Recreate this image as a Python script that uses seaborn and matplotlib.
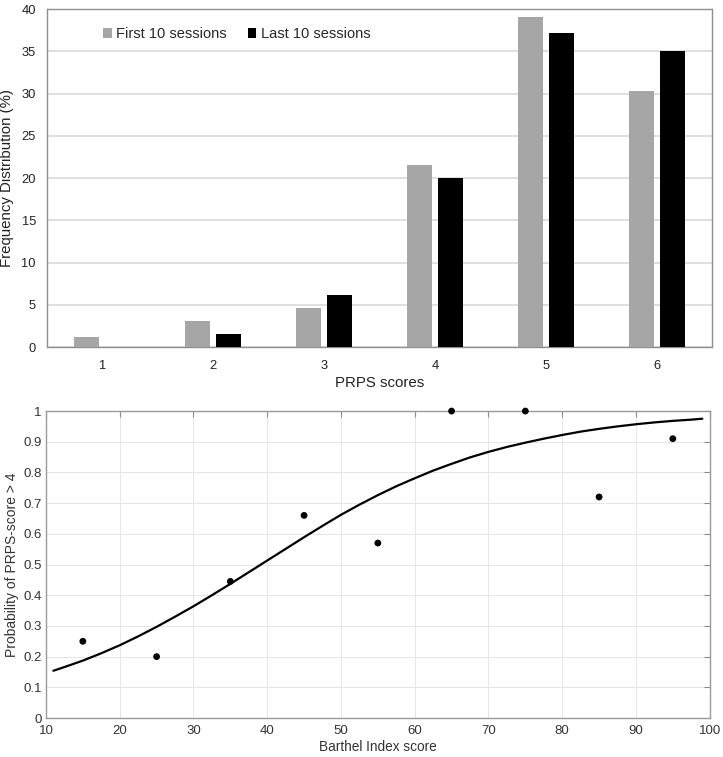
import pandas as pd
import matplotlib
matplotlib.use("Agg")
import matplotlib.pyplot as plt
import seaborn as sns

# bar chart: frequency distribution of PRPS scores (%)
prps_scores = [1, 2, 3, 4, 5, 6]
first_10 = [1.2, 3.1, 4.6, 21.5, 39.0, 30.3]
last_10 = [0.0, 1.5, 6.2, 20.0, 37.2, 35.0]
session_names = ["First 10 sessions", "Last 10 sessions"]

# observed probability of PRPS-score > 4 by Barthel index
barthel_x = [15, 25, 35, 45, 55, 65, 75, 85, 95]
prob_obs = [0.25, 0.20, 0.445, 0.66, 0.57, 1.0, 1.0, 0.72, 0.91]

# fitted curve
curve_x = [11, 12.5, 15, 17.5, 20, 22.5, 25, 27.5, 30, 32.5, 35, 37.5, 40, 42.5,
           45, 47.5, 50, 52.5, 55, 57.5, 60, 62.5, 65, 67.5, 70, 72.5, 75, 77.5,
           80, 82.5, 85, 87.5, 90, 92.5, 95, 97.5, 99]
curve_y = [0.154, 0.166, 0.187, 0.211, 0.237, 0.266, 0.297, 0.330, 0.364, 0.400,
           0.437, 0.475, 0.513, 0.551, 0.589, 0.626, 0.662, 0.695, 0.726, 0.755,
           0.781, 0.806, 0.828, 0.849, 0.867, 0.883, 0.897, 0.910, 0.922, 0.933,
           0.942, 0.950, 0.957, 0.963, 0.968, 0.972, 0.975]

sns.set_style("white")
plt.rcParams['font.family'] = ['Liberation Sans', 'DejaVu Sans']

bars = pd.DataFrame({
    "score": prps_scores * 2,
    "freq": first_10 + last_10,
    "session": [session_names[0]] * len(first_10) + [session_names[1]] * len(last_10),
})
obs = pd.DataFrame({"barthel": barthel_x, "prob": prob_obs})
curve = pd.DataFrame({"barthel": curve_x, "prob": curve_y})

fig = plt.figure(figsize=(7.23, 7.57), dpi=100)
ax1 = fig.add_axes([0.065, 0.5416, 0.92, 0.4465])
ax2 = fig.add_axes([0.0636, 0.0515, 0.918, 0.4055])

# --- top: grouped bars
sns.barplot(data=bars, x="score", y="freq", hue="session",
            palette=["#a6a6a6", "#000000"], saturation=1,
            width=0.56, gap=0.2, linewidth=0, ax=ax1, zorder=3)
ax1.set_xlim(-0.5, 5.5)
ax1.set_ylim(0, 40)
ax1.set_yticks(range(0, 41, 5))
ax1.yaxis.grid(True, color="#d9d9d9", linewidth=1.2, zorder=0)
ax1.set_axisbelow(True)
for sp in ax1.spines.values():
    sp.set_color("#8f8f8f")
    sp.set_linewidth(1.0)
ax1.tick_params(axis="both", length=0, labelsize=9.3, colors="#222222")
ax1.tick_params(axis="x", pad=9)
ax1.tick_params(axis="y", pad=8)
ax1.set_xlabel("PRPS scores", fontsize=10.8, color="#222222", labelpad=3)
ax1.set_ylabel("Frequency Distribution (%)", fontsize=10.8, color="#222222", labelpad=5)
ax1.legend(loc="upper left", bbox_to_anchor=(0.065, 0.985), ncol=2, frameon=False,
           handlelength=0.6, handleheight=0.6, handletextpad=0.3,
           columnspacing=1.4, fontsize=10.5)

# --- bottom: observed points and fitted curve
sns.lineplot(data=curve, x="barthel", y="prob", color="black", linewidth=1.6,
             solid_joinstyle="round", ax=ax2)
sns.scatterplot(data=obs, x="barthel", y="prob", color="black", s=24,
                edgecolor="none", ax=ax2, zorder=4, clip_on=False)
ax2.set_xlim(10, 100)
ax2.set_ylim(0, 1)
ax2.set_xticks(range(10, 101, 10))
ax2.set_yticks([i / 10 for i in range(11)])
ax2.set_yticklabels(["%g" % (i / 10) for i in range(11)])
ax2.grid(True, color="#e6e6e6", linewidth=0.7)
for sp in ax2.spines.values():
    sp.set_color("#9a9a9a")
    sp.set_linewidth(1.0)
ax2.tick_params(axis="both", direction="in", length=4, width=0.8, color="#8a8a8a",
                top=True, right=True, labelsize=9.5, labelcolor="#333333")
ax2.tick_params(axis="x", pad=5)
ax2.tick_params(axis="y", pad=3)
ax2.set_xlabel("Barthel Index score", fontsize=9.8, color="#333333", labelpad=2)
ax2.set_ylabel("Probability of PRPS-score > 4", fontsize=10, color="#333333", labelpad=3)

fig.savefig("out.png", dpi=100)
